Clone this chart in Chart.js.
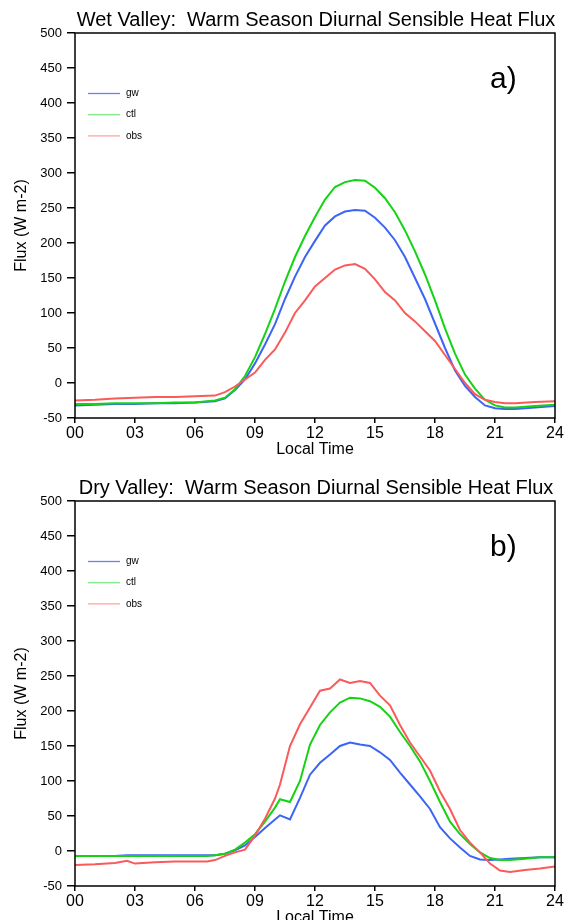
<!DOCTYPE html>
<html>
<head>
<meta charset="utf-8">
<title>Diurnal Sensible Heat Flux</title>
<script src="https://cdn.jsdelivr.net/npm/chart.js@4/dist/chart.umd.min.js"></script>
<style>
    html, body { margin: 0; padding: 0; background: #fff; width: 575px; height: 920px; overflow: hidden; }
    .panel { position: absolute; left: 0; width: 575px; height: 468px; }
    #panel-a { top: 0; }
    #panel-b { top: 468px; }
</style>
</head>
<body>
<div class="panel" id="panel-a"><canvas id="chart-a" width="575" height="468"></canvas></div>
<div class="panel" id="panel-b"><canvas id="chart-b" width="575" height="468"></canvas></div>
<script>
// Series labels and axis ranges
const seriesNames = ['gw', 'ctl', 'obs'];
const yTicks = { min: -50, max: 500, step: 50 };
const xTicks = { min: 0, max: 24, step: 3 };

// Panel a: Wet Valley (local hour -> W m-2)
const hoursA = [0, 1, 2, 3, 4, 5, 6, 7, 7.5, 8, 8.5, 9, 9.5, 10, 10.5, 11, 11.5, 12, 12.5, 13,
    13.5, 14, 14.5, 15, 15.5, 16, 16.5, 17, 17.5, 18, 18.5, 19, 19.5, 20, 20.5, 21, 21.5, 22, 23, 24];
const gwA = [-32, -31, -30, -30, -29, -29, -28, -26, -22, -10, 5, 28, 55, 84, 120, 152, 180, 203, 225, 238,
    245, 247, 246, 236, 222, 204, 180, 150, 120, 85, 50, 18, -4, -20, -32, -36, -37, -37, -35, -33];
const ctlA = [-30, -30, -29, -29, -29, -28, -28, -25, -21, -9, 10, 37, 70, 106, 145, 180, 210, 237, 262, 280,
    287, 290, 289, 279, 264, 244, 218, 188, 155, 118, 78, 42, 12, -8, -24, -32, -35, -35, -33, -31];
const obsA = [-25, -24, -22, -21, -20, -20, -19, -18, -13, -5, 5, 15, 33, 48, 72, 100, 118, 138, 150, 162,
    168, 170, 163, 148, 130, 118, 100, 88, 74, 60, 40, 20, 0, -16, -24, -27, -29, -29, -27, -26];

// Panel b: Dry Valley
const hoursB = [0, 1, 2, 2.6, 3, 4, 5, 6, 6.6, 7, 7.5, 8, 8.5, 9, 9.5, 10, 10.25, 10.75, 11.25, 11.75,
    12.25, 12.75, 13.25, 13.75, 14.25, 14.75, 15.25, 15.75, 16.25, 16.75, 17.25, 17.75, 18.25, 18.75, 19.25, 19.75,
    20.25, 20.75, 21.25, 21.75, 22.5, 23.25, 24];
const gwB = [-7, -7, -7, -6, -6, -6, -6, -6, -6, -6, -4, 1, 8, 20, 33, 45, 51, 45, 76, 109,
    126, 138, 150, 155, 152, 150, 141, 130, 112, 95, 78, 60, 34, 18, 5, -7,
    -12, -13, -12, -11, -10, -9, -9];
const ctlB = [-7, -7, -7, -7, -7, -7, -7, -7, -7, -6, -4, 2, 12, 24, 42, 62, 74, 70, 100, 152,
    180, 198, 212, 219, 218, 214, 206, 192, 170, 150, 128, 100, 70, 42, 24, 10,
    -2, -10, -13, -13, -11, -9, -9];
const obsB = [-20, -19, -17, -14, -18, -16, -15, -15, -15, -13, -7, -2, 2, 22, 46, 75, 95, 150, 181, 205,
    229, 232, 245, 240, 243, 240, 222, 208, 180, 155, 135, 115, 85, 60, 30, 12,
    -2, -18, -28, -30, -27, -25, -22];

const lineColors = ['#3c64f5', '#14d214', '#fa5a5a'];
const legendColors = ['#6482f0', '#82e682', '#ffa5a5'];
const FONT = '"Liberation Sans", Arial, sans-serif';

Chart.defaults.font.family = FONT;
Chart.defaults.color = '#000';

// frame, title, panel letter and the little legend (GrADS style)
const panelDecor = {
    id: 'panelDecor',
    afterDraw(chart, args, opts) {
        const { ctx, chartArea: a } = chart;
        ctx.save();
        ctx.strokeStyle = '#000';
        ctx.lineWidth = 1.5;
        ctx.strokeRect(a.left, a.top, a.right - a.left, a.bottom - a.top);

        ctx.fillStyle = '#000';
        ctx.font = '20px ' + FONT;
        ctx.textAlign = 'center';
        ctx.textBaseline = 'alphabetic';
        ctx.fillText(opts.title, (a.left + a.right) / 2 + 1, a.top - opts.titleGap);

        ctx.font = '30px ' + FONT;
        ctx.textAlign = 'left';
        ctx.fillText(opts.letter, 490, 88);

        ctx.font = '10px ' + FONT;
        ctx.textBaseline = 'middle';
        chart.data.datasets.forEach((ds, i) => {
            const y = 93.5 + i * 21.2;
            ctx.strokeStyle = legendColors[i];
            ctx.lineWidth = 1.3;
            ctx.beginPath();
            ctx.moveTo(88, y);
            ctx.lineTo(120, y);
            ctx.stroke();
            ctx.fillText(ds.label, 126, y);
        });
        ctx.restore();
    }
};

function makeSeries(hours, values) {
    return hours.map((h, i) => ({ x: h, y: values[i] }));
}

function buildChart(canvasId, title, letter, titleGap, hours, gw, ctl, obs) {
    const ctx = document.getElementById(canvasId).getContext('2d');
    const sets = [gw, ctl, obs];

    new Chart(ctx, {
        type: 'line',
        data: {
            datasets: sets.map((vals, i) => ({
                label: seriesNames[i],
                data: makeSeries(hours, vals),
                borderColor: lineColors[i],
                borderWidth: 2,
                pointRadius: 0,
                tension: 0,
                fill: false,
                order: 3 - i
            }))
        },
        options: {
            responsive: false,
            animation: false,
            layout: { padding: { top: 33, right: 20, left: 0, bottom: 0 } },
            plugins: {
                legend: { display: false },
                tooltip: { enabled: false },
                panelDecor: { title: title, letter: letter, titleGap: titleGap }
            },
            scales: {
                x: {
                    type: 'linear',
                    min: xTicks.min,
                    max: xTicks.max,
                    afterFit: s => { s.height = 50; },
                    border: { display: false },
                    grid: { drawOnChartArea: false, drawTicks: true, tickLength: 5, color: '#000', lineWidth: 1.5 },
                    ticks: {
                        stepSize: xTicks.step,
                        padding: 1,
                        maxRotation: 0,
                        font: { size: 16 },
                        callback: v => String(v).padStart(2, '0')
                    },
                    title: { display: true, text: 'Local Time', font: { size: 16 }, padding: { top: 0, bottom: 8.4 } }
                },
                y: {
                    min: yTicks.min,
                    max: yTicks.max,
                    afterFit: s => { s.width = 75; },
                    border: { display: false },
                    grid: { drawOnChartArea: false, drawTicks: true, tickLength: 8, color: '#000', lineWidth: 1.5 },
                    ticks: { stepSize: yTicks.step, padding: 5, font: { size: 13 } },
                    title: { display: true, text: 'Flux (W m-2)', font: { size: 16 }, padding: { top: 12.4, bottom: 0 } }
                }
            }
        },
        plugins: [panelDecor]
    });
}

buildChart('chart-a', 'Wet Valley:  Warm Season Diurnal Sensible Heat Flux', 'a)', 7, hoursA, gwA, ctlA, obsA);
buildChart('chart-b', 'Dry Valley:  Warm Season Diurnal Sensible Heat Flux', 'b)', 7, hoursB, gwB, ctlB, obsB);
</script>
</body>
</html>
